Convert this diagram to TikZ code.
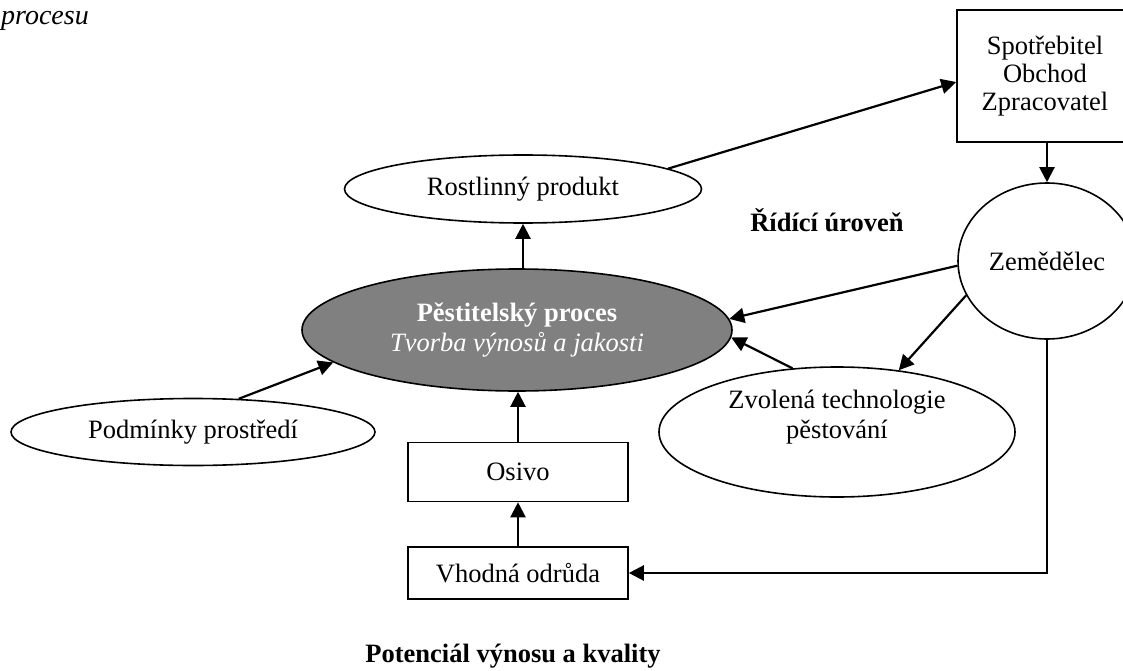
\documentclass[tikz,border=0pt]{standalone}
\usepackage{fontspec}
\setmainfont{Liberation Serif}
\usetikzlibrary{shapes.geometric,arrows.meta}
\begin{document}
\begin{tikzpicture}[x=1pt,y=-1pt,
  every node/.style={font=\fontsize{26.5}{30}\selectfont, inner sep=0pt, align=center},
  ell/.style={draw, ellipse, line width=1.6pt},
  boxnode/.style={draw, rectangle, line width=1.6pt},
  arr/.style={line width=2.2pt, -{Triangle[length=15pt,width=15pt]}}
]
\useasboundingbox (0,0) rectangle (1123,671);
\node[ell, minimum width=357pt, minimum height=68pt] (rost) at (523,189) {Rostlinný produkt};
\node[ell, fill=gray, text=white, minimum width=430pt, minimum height=122pt] (pest) at (517,330)
  {\textbf{Pěstitelský proces}\\\textit{Tvorba výnosů a jakosti}};
\node[ell, minimum width=364pt, minimum height=67pt] (podm) at (193,432) {Podmínky prostředí};
\node[boxnode, minimum width=220pt, minimum height=59pt] (osivo) at (518,472) {Osivo};
\node[boxnode, minimum width=220pt, minimum height=52pt] (vhod) at (518,573) {Vhodná odrůda};
\node[ell, minimum width=356pt, minimum height=130pt] (zvol) at (837,432) {Zvolená technologie\\pěstování\\[6pt]};
\node[ell, minimum width=178pt, minimum height=156pt] (zem) at (1047,261) {Zemědělec};
\node[boxnode, minimum width=176pt, minimum height=132pt, font=\fontsize{26.5}{28}\selectfont] (spot) at (1045,76)
  {Spotřebitel\\Obchod\\Zpracovatel};
\node (ridici) at (827,220) {\textbf{Řídící úroveň}};
\node[anchor=base] (pot) at (513,662) {\textbf{Potenciál výnosu a kvality}};
\node[anchor=base west, font=\fontsize{28}{30}\selectfont\itshape] (proc) at (1,25) {procesu};

\draw[arr] (rost.8) -- ([yshift=-6pt]spot.west);
\draw[arr] (spot.south -| zem.north) -- (zem.north);
\draw[arr] (zem.183) -- (pest.3);
\draw[arr] (zem.203) -- (zvol.45);
\draw[arr] (zvol.125) -- (pest.-2);
\draw[arr] (podm.36) -- (pest.190);
\draw[arr] (rost.south |- pest.north) -- (rost.south);
\draw[arr] (osivo.north) -- (osivo.north |- pest.south);
\draw[arr] (vhod.north) -- (osivo.south);
\draw[arr] (zem.south) |- (vhod.east);
\end{tikzpicture}
\end{document}
